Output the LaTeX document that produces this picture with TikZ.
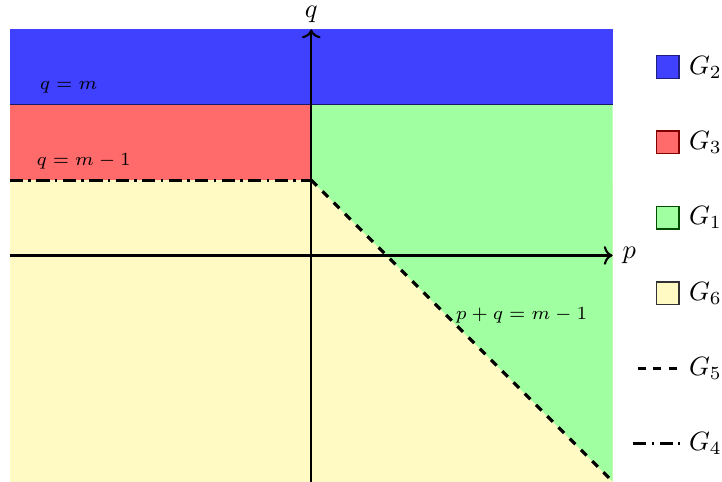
\documentclass[tikz,border=0pt]{standalone}
\usetikzlibrary{arrows.meta}
\begin{document}
\begin{tikzpicture}[x=1cm,y=1cm,
  lbl/.style={font=\scriptsize,inner sep=1pt},
  legbox/.style={minimum size=0.3cm,inner sep=0pt,line width=0.5pt},
  legtxt/.style={anchor=west,inner sep=1pt},
  axis/.style={line width=0.8pt,->}]
\definecolor{cblue}{RGB}{64,64,255}
\definecolor{cred}{RGB}{255,107,107}
\definecolor{cgreen}{RGB}{160,255,160}
\definecolor{cyellow}{RGB}{255,249,196}
\useasboundingbox (-4.13,-3) rectangle (5.45,3.39);
% regions
\fill[cyellow] (-4,-3) rectangle (4,1);
\fill[cgreen] (0,1) -- (0,2) -- (4,2) -- (4,-3) -- cycle;
\fill[cred] (-4,1) rectangle (0,2);
\fill[cblue] (-4,2) rectangle (4,3);
\draw[cblue!40!black,line width=0.4pt] (-4,2) -- (4,2);
% boundaries
\coordinate (k) at (0,1);
\coordinate (kl) at (-4,1);
\coordinate (kr) at (4,-3);
\draw[line width=1.2pt,dash pattern=on 5pt off 2pt on 1pt off 2pt] (kl) -- (k);
\draw[line width=1.2pt,dashed] (k) -- (kr);
% axes
\coordinate (xl) at (-4,0);
\coordinate (yb) at (0,-3);
\draw[axis] (xl) -- (4,0) node[right] (plab) {$p$};
\draw[axis] (yb) -- (0,3) node[above,inner sep=2pt] (qlab) {$q$};
% labels
\node[lbl] (l1) at (-3.22,2.23) {$q=m$};
\node[lbl] (l2) at (-3.02,1.25) {$q=m-1$};
\node[lbl] (l3) at (2.79,-0.8) {$p+q=m-1$};
% legend
\node[legbox,fill=cblue,draw=cblue!50!black] (b2) at (4.73,2.5) {};
\node[legtxt] (t2) at (4.97,2.5) {$G_2$};
\node[legbox,fill=cred,draw=red!50!black] (b3) at (4.73,1.5) {};
\node[legtxt] (t3) at (4.97,1.5) {$G_3$};
\node[legbox,fill=cgreen,draw=green!30!black] (b1) at (4.73,0.5) {};
\node[legtxt] (t1) at (4.97,0.5) {$G_1$};
\node[legbox,fill=cyellow,draw=black!80] (b6) at (4.73,-0.5) {};
\node[legtxt] (t6) at (4.97,-0.5) {$G_6$};
\coordinate (d5a) at (4.33,-1.5);
\coordinate (d5b) at (4.89,-1.5);
\draw[line width=1.2pt,dashed] (d5a) -- (d5b);
\node[legtxt] (t5) at (4.97,-1.5) {$G_5$};
\coordinate (d4a) at (4.27,-2.5);
\coordinate (d4b) at (4.89,-2.5);
\draw[line width=1.2pt,dash pattern=on 5pt off 2pt on 1pt off 2pt] (d4a) -- (d4b);
\node[legtxt] (t4) at (4.97,-2.5) {$G_4$};
\end{tikzpicture}
\end{document}
